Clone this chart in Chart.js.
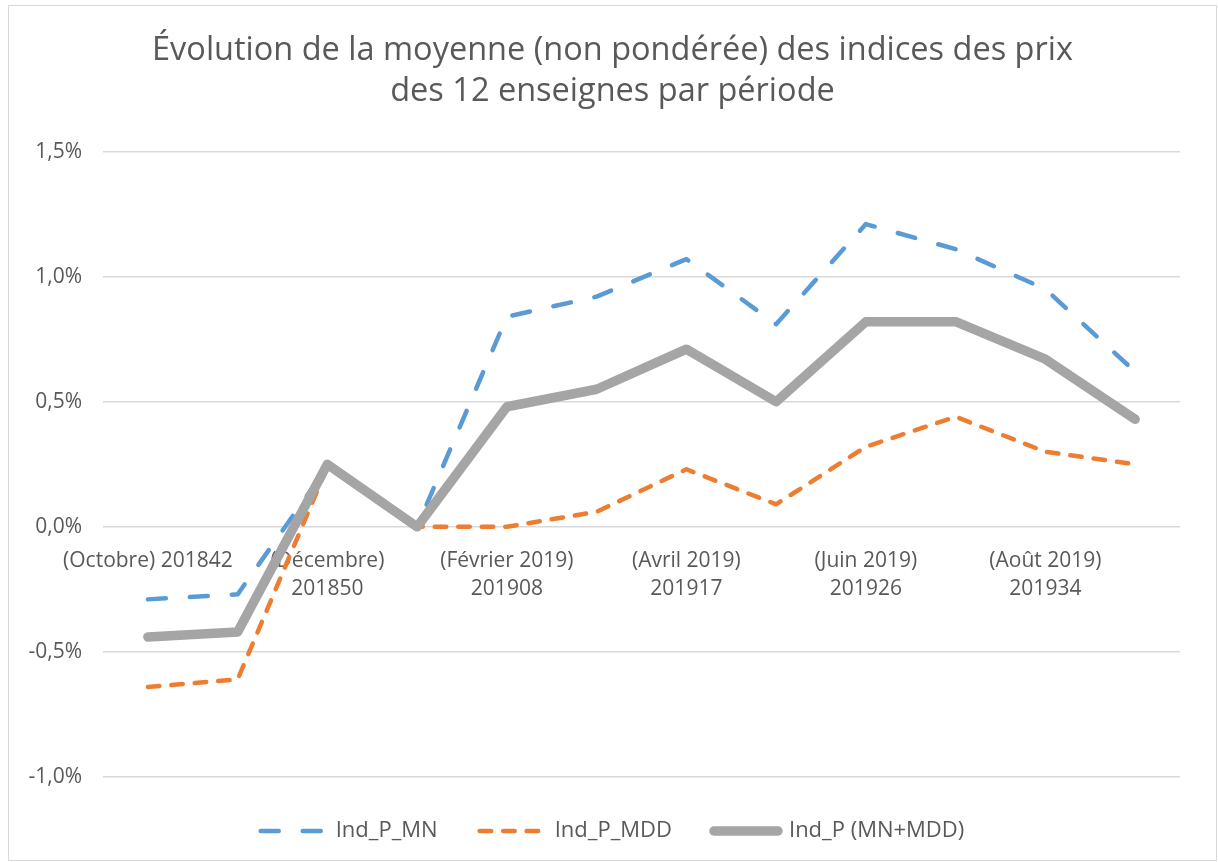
<!DOCTYPE html>
<html>
<head>
<meta charset="utf-8">
<script src="https://cdn.jsdelivr.net/npm/chart.js@4"></script>
<style>
  body { margin: 0; background: #fff; }
  #box { position: absolute; left: 8px; top: 5px; width: 1207px; height: 854px; border: 1px solid #d9d9d9; }
  #chart { display: block; }
</style>
</head>
<body>
<div id="box"><canvas id="chart" width="1207" height="854"></canvas></div>
<script>
const periodes = [
    ['(Octobre) 201842'], '',
    ['(Décembre)', '201850'], '',
    ['(Février 2019)', '201908'], '',
    ['(Avril 2019)', '201917'], '',
    ['(Juin 2019)', '201926'], '',
    ['(Août 2019)', '201934'], ''
];

const indPMN  = [-0.29, -0.27, 0.24, 0.00, 0.84, 0.92, 1.07, 0.81, 1.21, 1.11, 0.95, 0.62];
const indPMDD = [-0.64, -0.61, 0.24, 0.00, 0.00, 0.06, 0.23, 0.09, 0.32, 0.44, 0.30, 0.25];
const indP    = [-0.44, -0.42, 0.25, 0.00, 0.48, 0.55, 0.71, 0.50, 0.82, 0.82, 0.67, 0.43];

const textColor = '#595959';
Chart.defaults.font.family = '"Open Sans", sans-serif';
Chart.defaults.color = textColor;

new Chart(document.getElementById('chart'), {
    type: 'line',
    data: {
        labels: periodes,
        datasets: [{
            label: 'Ind_P_MN',
            data: indPMN,
            borderColor: '#5B9BD5',
            backgroundColor: '#5B9BD5',
            borderWidth: 4.5,
            borderDash: [18, 24],
            borderCapStyle: 'round',
            borderJoinStyle: 'round',
            pointRadius: 0,
            order: 2
        }, {
            label: 'Ind_P_MDD',
            data: indPMDD,
            borderColor: '#ED7D31',
            backgroundColor: '#ED7D31',
            borderWidth: 4.5,
            borderDash: [11.5, 12],
            borderCapStyle: 'round',
            borderJoinStyle: 'round',
            pointRadius: 0,
            order: 1
        }, {
            label: 'Ind_P (MN+MDD)',
            data: indP,
            borderColor: '#A5A5A5',
            backgroundColor: '#A5A5A5',
            borderWidth: 9.5,
            borderCapStyle: 'round',
            borderJoinStyle: 'round',
            pointRadius: 0,
            order: 0
        }]
    },
    options: {
        responsive: false,
        animation: false,
        layout: { padding: { left: 0, right: 0, top: 0, bottom: 8 } },
        scales: {
            x: {
                offset: true,
                position: { y: 0 },
                grid: { display: false, offset: true },
                border: { display: false },
                ticks: {
                    autoSkip: false,
                    maxRotation: 0,
                    padding: 12,
                    font: { size: 21, lineHeight: 1.35 }
                }
            },
            y: {
                min: -1,
                max: 1.5,
                grid: { color: '#D9D9D9', lineWidth: 1.5, drawTicks: false },
                border: { display: false },
                ticks: {
                    stepSize: 0.5,
                    padding: 21,
                    font: { size: 21 },
                    callback: v => v.toFixed(1).replace('.', ',') + '%'
                },
                afterFit: s => { s.width = 94; }
            },
            // marge droite de la zone de tracé
            droite: {
                position: 'right',
                grid: { display: false },
                border: { display: false },
                ticks: { display: false },
                afterFit: s => { s.width = 36; }
            }
        },
        plugins: {
            title: {
                display: true,
                text: ['Évolution de la moyenne (non pondérée) des indices des prix', 'des 12 enseignes par période'],
                color: textColor,
                font: { size: 32.5, weight: 'normal', lineHeight: 1.27 },
                padding: { top: 24, bottom: 39 }
            },
            legend: {
                position: 'bottom',
                title: { display: true, text: ' ', font: { size: 1, lineHeight: 1 }, padding: 0 },
                labels: {
                    usePointStyle: true,
                    pointStyle: 'line',
                    pointStyleWidth: 64,
                    padding: 42,
                    font: { size: 22 },
                    sort: (a, b) => a.datasetIndex - b.datasetIndex,
                    // reprendre les tirets des séries dans la légende
                    generateLabels: chart => Chart.defaults.plugins.legend.labels.generateLabels(chart).map(item => {
                        const ds = chart.data.datasets[item.datasetIndex];
                        item.lineDash = ds.borderDash || [];
                        item.lineCap = 'round';
                        item.lineWidth = ds.borderWidth;
                        return item;
                    })
                }
            },
            tooltip: { enabled: false }
        }
    }
});
</script>
</body>
</html>
